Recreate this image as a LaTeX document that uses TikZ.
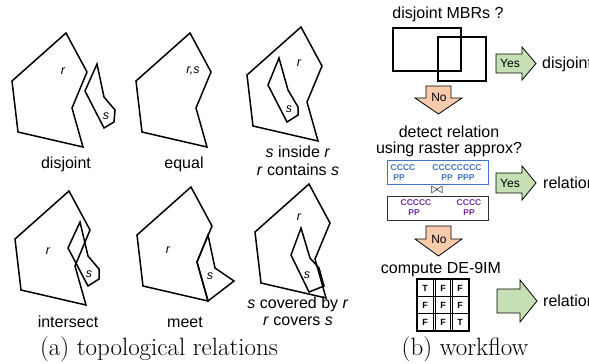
\documentclass[tikz,border=0pt]{standalone}
\usepackage{fontspec}
\setsansfont{Liberation Sans}
\usepackage{tikz}
\usetikzlibrary{calc}
\definecolor{yesgreen}{RGB}{197,224,180}
\definecolor{noorange}{RGB}{248,203,173}
\definecolor{rasterblue}{RGB}{68,114,196}
\definecolor{rasterpurple}{RGB}{112,48,160}
\def\regionr(#1,#2){\draw[region,shift={(#1,#2)}] (66,33) -- (87,72) -- (72,108) -- (83,147) -- (18,132) -- (12,81) -- cycle;}
\def\blockright[#1](#2,#3)(#4:#5:#6:#7){\draw[#1] (#2,#3-#6) -- (#2+#4,#3-#6) -- (#2+#4,#3-#7) -- (#2+#5,#3) -- (#2+#4,#3+#7) -- (#2+#4,#3+#6) -- (#2,#3+#6) -- cycle;}
\def\blockdown[#1](#2,#3)(#4:#5:#6:#7){\draw[#1] (#2-#6,#3) -- (#2+#6,#3) -- (#2+#6,#3+#4) -- (#2+#7,#3+#4) -- (#2,#3+#5) -- (#2-#7,#3+#4) -- (#2-#6,#3+#4) -- cycle;}
\tikzset{
  region/.style={line width=1.5pt, line join=miter},
  lbl/.style={font=\sffamily\fontsize{16}{19}\selectfont, inner sep=0pt, anchor=base},
  var/.style={font=\sffamily\itshape\fontsize{12.5}{14}\selectfont, inner sep=0pt},
  caption/.style={font=\fontsize{25}{30}\selectfont, inner sep=0pt, anchor=base},
  arrowbox/.style={line width=0.8pt, line join=miter},
  arrowtxt/.style={font=\sffamily\fontsize{12}{14}\selectfont, inner sep=0pt},
  rastertxt/.style={font=\sffamily\bfseries\fontsize{8.5}{10}\selectfont, inner sep=0pt},
  celltxt/.style={font=\sffamily\bfseries\fontsize{9}{10}\selectfont, inner sep=0pt}
}
\begin{document}
\begin{tikzpicture}[x=1pt, y=-1pt]
		%%%%% START %%%%%
		\useasboundingbox (0,0) rectangle (589,364);
		
		% disjoint
		\regionr(0,0)
		\draw[region] (97,64) -- (104,97) -- (115,110) -- (114,122) -- (104,128) -- (85,91) -- cycle;
		\node[var] (r-dj) at (63,71) {r};
		\node[var] (s-dj) at (106,116) {s};
		\node[lbl] (t-dj) at (66,168) {disjoint};
		
		% equal
		\regionr(124,0)
		\node[var] (rs-eq) at (193,71) {r,s};
		\node[lbl] (t-eq) at (184,168) {equal};
		
		% inside
		\regionr(235,-6)
		\draw[region] (279,58) -- (288,90) -- (298,107) -- (298,115) -- (287,122) -- (268,85) -- cycle;
		\node[var] (r-in) at (299,63) {r};
		\node[var] (s-in) at (289,109) {s};
		\node[lbl] (t-in1) at (298,157) {\textit{s} inside \textit{r}};
		\node[lbl] (t-in2) at (298,175) {\textit{r} contains \textit{s}};
		
		% intersect
		\regionr(3,158)
		\draw[region] (80,222) -- (88,256) -- (99,269) -- (99,279) -- (88,286) -- (68,248) -- cycle;
		\node[var] (r-is) at (48,251) {r};
		\node[var] (s-is) at (89,274) {s};
		\node[lbl] (t-is) at (68,327) {intersect};
		
		% meet
		\regionr(125,154)
		\draw[region] (208,235) -- (215,268) -- (234,281) -- (208,301) -- (197,262) -- cycle;
		\node[var] (r-mt) at (168,250) {r};
		\node[var] (s-mt) at (210,276) {s};
		\node[lbl] (t-mt) at (185,327) {meet};
		
		% covered by
		\regionr(243,151)
		\draw[region] (301,228) -- (310,258) -- (319,268) -- (324,286) -- (309,292) -- (291,255) -- cycle;
		\node[var] (r-cv) at (299,217) {r};
		\node[var] (s-cv) at (307,275) {s};
		\node[lbl] (t-cv1) at (298,308) {\textit{s} covered by \textit{r}};
		\node[lbl] (t-cv2) at (298,325) {\textit{r} covers \textit{s}};
		
		\node[caption] (cap-a) at (159,355) {(a) topological relations};
		
		% workflow: MBR test
		\node[lbl] (t-mbr) at (448,19) {disjoint MBRs ?};
		\draw[line width=1.3pt] (393,28) rectangle (461,71);
		\draw[line width=1.3pt] (438,37) rectangle (486,81);
		\blockright[arrowbox, fill=yesgreen](496,63.5)(26:40:9.5:16.5)
		\node[arrowtxt] (yes1) at (510,63) {Yes};
		\node[lbl, anchor=base west] (out1) at (542,68) {disjoint};
		\blockdown[arrowbox, fill=noorange](438.5,86)(12:28:12.5:23.5)
		\node[arrowtxt] (no1) at (439,97) {No};
		
		% raster approximation
		\node[lbl] (t-det1) at (449,137) {detect relation};
		\node[lbl] (t-det2) at (449,153) {using raster approx?};
		\draw[rasterblue, line width=0.8pt] (387,160) rectangle (488,184);
		\node[rastertxt, rasterblue] (c1a) at (403,168) {CCCC};
		\node[rastertxt, rasterblue] (p1a) at (399,178) {PP};
		\node[rastertxt, rasterblue] (c1b) at (457,168) {CCCCCCCC};
		\node[rastertxt, rasterblue] (p1b) at (458,178) {PP\ \ PPP};
		\node[inner sep=0pt, font=\Large] (join) at (437,190) {$\bowtie$};
		\draw[black!80, line width=0.8pt] (387,196) rectangle (488,220);
		\node[rastertxt, rasterpurple] (c2a) at (416,203) {CCCCC};
		\node[rastertxt, rasterpurple] (p2a) at (414,213) {PP};
		\node[rastertxt, rasterpurple] (c2b) at (469,203) {CCCC};
		\node[rastertxt, rasterpurple] (p2b) at (469,213) {PP};
		\blockright[arrowbox, fill=yesgreen](496,183)(26:40:10:17)
		\node[arrowtxt] (yes2) at (510,183) {Yes};
		\node[lbl, anchor=base west] (out2) at (543,188) {relation};
		\blockdown[arrowbox, fill=noorange](438.5,226)(13:30:12.5:23.5)
		\node[arrowtxt] (no2) at (439,239) {No};
		
		% DE-9IM
		\node[lbl] (t-de9im) at (441,273) {compute DE-9IM};
		\draw[line width=1.6pt] (417,279) rectangle (469,331);
		\draw[line width=1.2pt] (417,296.3) -- (469,296.3);
		\draw[line width=1.2pt] (417,313.6) -- (469,313.6);
		\foreach \gx in {433.3,450.6} {
			\draw[line width=0.9pt] (\gx,279) -- (\gx,331);
			\draw[line width=0.9pt] (\gx+2,279) -- (\gx+2,331);
		}
		\node[celltxt] (m11) at (425,288) {T};
		\node[celltxt] (m12) at (443,288) {F};
		\node[celltxt] (m13) at (460,288) {F};
		\node[celltxt] (m21) at (425,305) {F};
		\node[celltxt] (m22) at (443,305) {F};
		\node[celltxt] (m23) at (460,305) {F};
		\node[celltxt] (m31) at (425,322) {F};
		\node[celltxt] (m32) at (443,322) {F};
		\node[celltxt] (m33) at (460,322) {T};
		\blockright[arrowbox, fill=yesgreen](497,301)(23:40:12:21)
		\node[lbl, anchor=base west] (out3) at (543,306) {relation};
		
		\node[caption] (cap-b) at (465,355) {(b) workflow};
		
		%%%%% END %%%%%
	\end{tikzpicture}
\end{document}
